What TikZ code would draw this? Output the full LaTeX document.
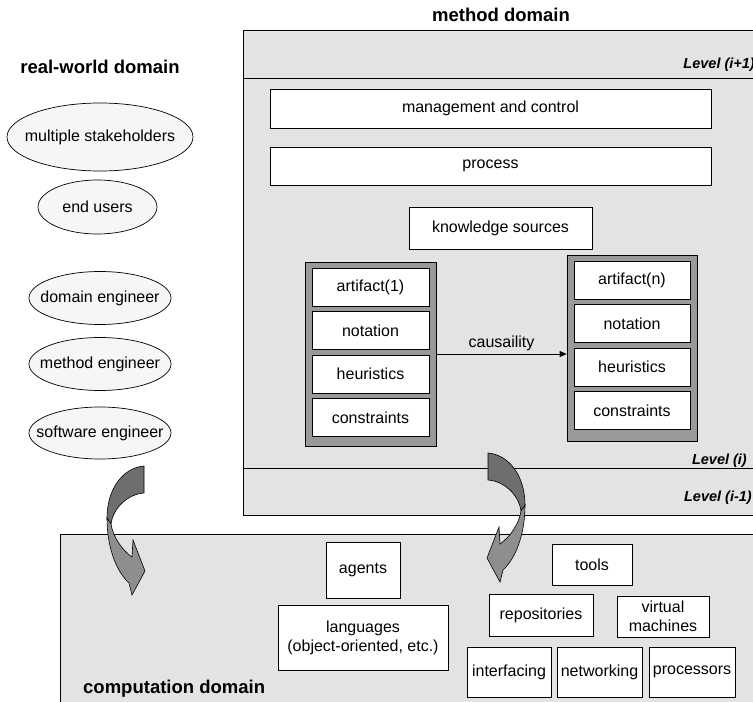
\documentclass[tikz,border=0pt]{standalone}
\usepackage{fontspec}
\setmainfont{Liberation Sans}
\usetikzlibrary{shapes.geometric,arrows.meta}
\definecolor{panel}{HTML}{E3E3E3}
\definecolor{framegray}{HTML}{999999}
\definecolor{ellfill}{HTML}{F6F6F6}
\definecolor{backband}{HTML}{6E6E6E}
\definecolor{frontband}{HTML}{8E8E8E}
\newcommand\fsnorm{\fontsize{16bp}{19bp}\selectfont}
\newcommand\fstitle{\fontsize{18.5bp}{22bp}\selectfont\bfseries}
\newcommand\fslevel{\fontsize{14.5bp}{17bp}\selectfont\bfseries\itshape}
\newcommand\curvedband{%
  \filldraw[fill=backband, draw=black, line width=0.6bp]
    (0,0) .. controls (-22,2) and (-37,24) .. (-37,52) -- (-33,58)
    .. controls (-31,42) and (-16,28) .. (0,27) -- cycle;
  \filldraw[fill=frontband, draw=black, line width=0.6bp]
    (-37,52) .. controls (-37,79) and (-29,104) .. (-15,117) -- (-12,129)
    -- (1,105) -- (-11,74) -- (-12,91)
    .. controls (-22,84) and (-31,71) .. (-33,58) -- cycle;}
\begin{document}
\begin{tikzpicture}[x=1bp,y=-1bp,
  box/.style={draw=black, fill=white, line width=0.8bp, inner sep=0pt,
              align=center, font=\fsnorm},
  frm/.style={draw=black, fill=framegray, line width=0.8bp, inner sep=0pt},
  ell/.style={ellipse, draw=black, fill=ellfill, line width=0.7bp,
              inner sep=0pt, font=\fsnorm},
  ttl/.style={font=\fstitle, inner sep=0pt},
  lvl/.style={font=\fslevel, inner sep=0pt, anchor=east},
  panelline/.style={draw=black, line width=0.8bp}]
\clip (0,0) rectangle (753,702);
\fill[white] (0,0) rectangle (753,702);

% panels
\draw[panelline, fill=panel] (243,30) rectangle (775,515);
\draw[panelline, fill=panel] (60,534) rectangle (775,720);
\draw[panelline] (243,78) -- (775,78);
\draw[panelline] (243,468) -- (775,468);

% titles
\node[ttl] (tmethod) at (501,15) {method domain};
\node[ttl] (treal) at (100,67) {real-world domain};
\node[ttl, anchor=west] (tcomp) at (83,689) {computation domain};

% level labels
\node[lvl] (lv1) at (755,65) {Level (i+1)};
\node[lvl] (lv2) at (747,461) {Level (i)};
\node[lvl] (lv3) at (752,498) {Level (i-1)};

% real-world ellipses
\node[ell, minimum width=186bp, minimum height=68bp] (ms) at (100,137) {\makebox[0pt]{multiple stakeholders}};
\node[ell, minimum width=119bp, minimum height=54bp] (eu) at (97.5,207) {\makebox[0pt]{end users}};
\node[ell, minimum width=142bp, minimum height=53bp] (de) at (100,298) {\makebox[0pt]{domain engineer}};
\node[ell, minimum width=142bp, minimum height=53bp] (me) at (100,364) {\makebox[0pt]{method engineer}};
\node[ell, minimum width=142bp, minimum height=52bp] (se) at (100,433) {\makebox[0pt]{software engineer}};

% method domain boxes
\node[box, minimum width=441bp, minimum height=39bp] (mc) at (490.5,108.5) {management and control};
\node[box, minimum width=441bp, minimum height=38bp] (pr) at (490.5,166) {process};
\node[box, minimum width=183bp, minimum height=42bp] (ks) at (500.5,228) {knowledge sources};

\node[frm, minimum width=131bp, minimum height=184bp] (lf) at (370.5,354) {};
\node[box, minimum width=117bp, minimum height=38bp] (a1) at (370.5,287) {artifact(1)};
\node[box, minimum width=117bp, minimum height=38bp] (n1) at (370.5,330.5) {notation};
\node[box, minimum width=117bp, minimum height=38bp] (h1) at (370.5,374) {heuristics};
\node[box, minimum width=117bp, minimum height=38bp] (c1) at (370.5,417.5) {constraints};

\node[frm, minimum width=130bp, minimum height=186bp] (rf) at (632,348) {};
\node[box, minimum width=116bp, minimum height=38bp] (an) at (632,280) {artifact(n)};
\node[box, minimum width=116bp, minimum height=38bp] (nn) at (632,323.5) {notation};
\node[box, minimum width=116bp, minimum height=38bp] (hn) at (632,367) {heuristics};
\node[box, minimum width=116bp, minimum height=38bp] (cn) at (632,410.5) {constraints};

\draw[line width=0.8bp, -{Triangle[length=7bp,width=6bp]}] (lf.east) -- (lf.east -| rf.west)
  node[midway, above=3bp, font=\fsnorm, inner sep=0pt] (cz) {causaility};

% computation domain boxes
\node[box, minimum width=74bp, minimum height=56bp] (ag) at (363,570) {agents};
\node[box, minimum width=170bp, minimum height=65bp] (lg) at (363,637.5) {languages\\(object-oriented, etc.)};
\node[box, minimum width=80bp, minimum height=41bp] (tl) at (592,564.5) {tools};
\node[box, minimum width=104bp, minimum height=42bp] (rp) at (541,615) {repositories};
\node[box, minimum width=92bp, minimum height=41bp] (vm) at (663,616.5) {virtual\\machines};
\node[box, minimum width=84bp, minimum height=50bp] (itf) at (509,672) {interfacing};
\node[box, minimum width=85bp, minimum height=50bp] (nw) at (599.5,672) {networking};
\node[box, minimum width=86bp, minimum height=50bp] (pc) at (692,672) {processors};

% curved ribbon arrows
\begin{scope}[shift={(144,466)}]
  \curvedband
\end{scope}
\begin{scope}[shift={(488,453)}, xscale=-1]
  \curvedband
\end{scope}
\end{tikzpicture}
\end{document}
